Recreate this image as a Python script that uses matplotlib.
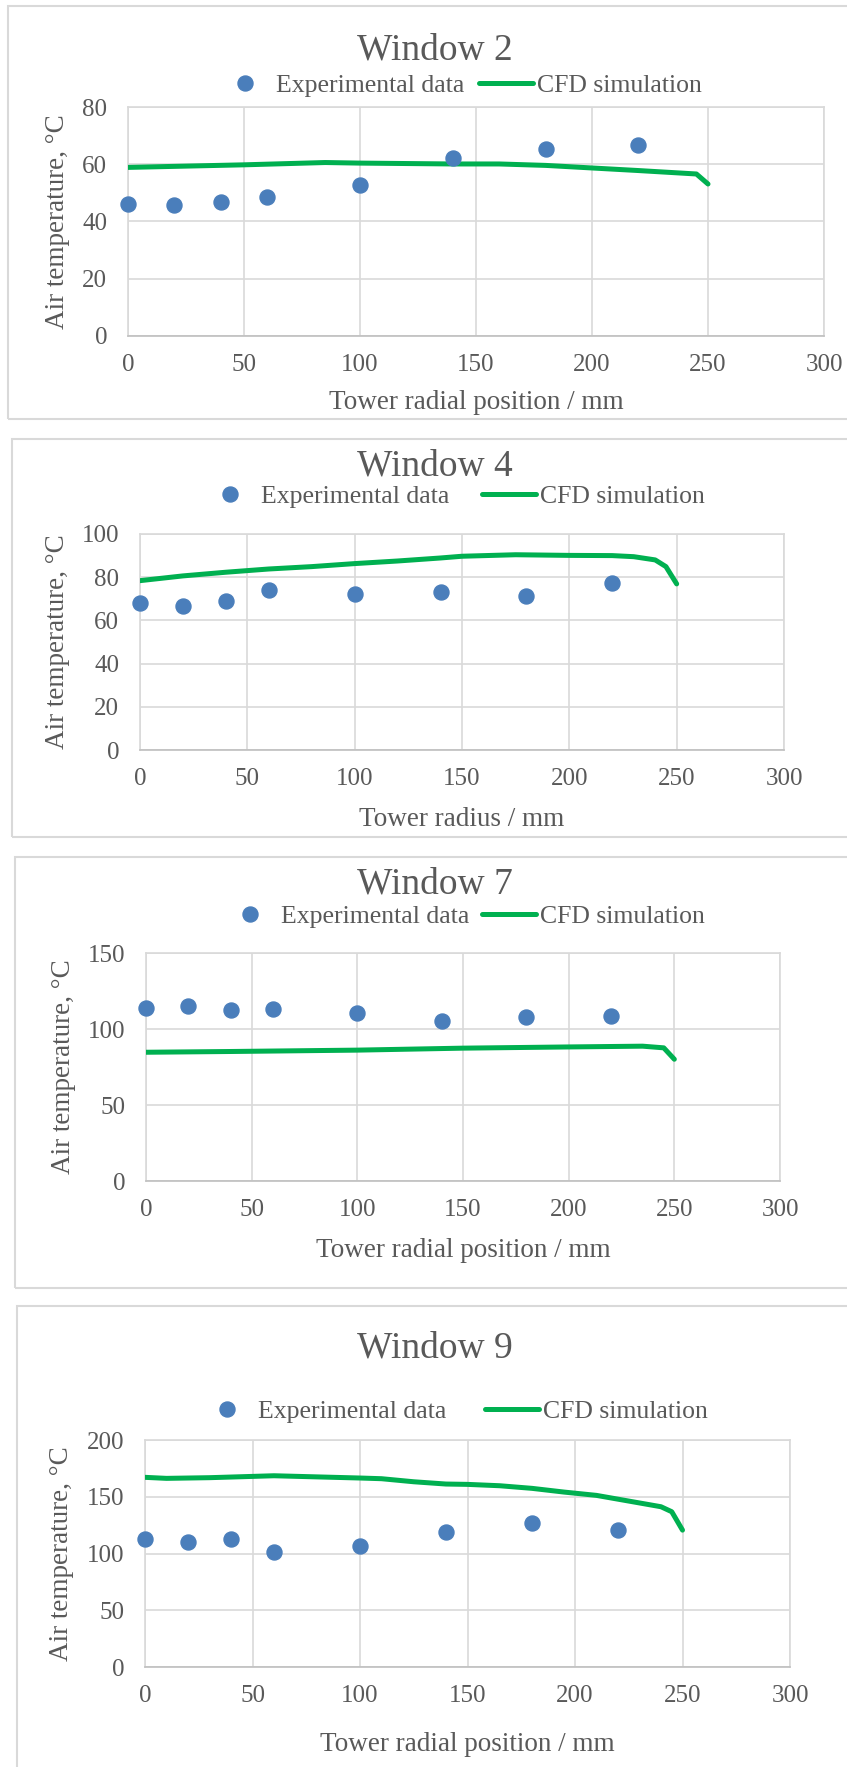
import matplotlib.pyplot as plt
from matplotlib.patches import Rectangle

plt.rcParams['font.family'] = ['Liberation Serif', 'DejaVu Serif']

W, H = 847, 1767

# measured radial positions / mm
exp_x = [0, 20, 40, 60, 100, 140, 180, 220]

# Window 2
w2_exp = [46.1, 45.8, 46.9, 48.7, 52.6, 62.2, 65.2, 66.6]
w2_cfd_x = [0, 50, 85, 100, 140, 160, 180, 200, 220, 245, 250]
w2_cfd = [58.9, 59.8, 60.6, 60.4, 60.1, 60.1, 59.6, 58.7, 57.8, 56.6, 53.1]

# Window 4
w4_exp = [67.9, 66.7, 69.0, 74.1, 72.4, 73.0, 71.3, 77.2]
w4_cfd_x = [0, 20, 40, 60, 80, 100, 120, 140, 150, 175, 200, 220, 230, 240, 245, 250]
w4_cfd = [78.4, 80.6, 82.3, 83.8, 84.9, 86.3, 87.5, 88.9, 89.7, 90.4, 90.1, 90.0, 89.5, 88.0, 84.9, 76.9]

# Window 7
w7_exp = [113.9, 115.0, 112.3, 113.4, 110.4, 105.3, 108.2, 108.4]
w7_cfd_x = [0, 40, 100, 150, 200, 235, 245, 250]
w7_cfd = [84.7, 85.2, 86.1, 87.4, 88.2, 88.7, 87.6, 80.1]

# Window 9
w9_exp = [112.4, 110.3, 112.6, 101.5, 106.8, 118.8, 126.5, 120.6]
w9_cfd_x = [0, 10, 30, 60, 100, 110, 125, 140, 150, 165, 180, 195, 210, 225, 240, 245, 250]
w9_cfd = [167.1, 166.2, 166.8, 168.5, 166.5, 165.9, 163.2, 161.2, 160.9, 159.7, 157.4, 154.1, 151.2, 146.2, 141.2, 136.8, 120.6]

titles = ['Window 2', 'Window 4', 'Window 7', 'Window 9']
xlabels = ['Tower radial position / mm', 'Tower radius / mm',
           'Tower radial position / mm', 'Tower radial position / mm']
ylabel = 'Air temperature, °C'
y_max = [80, 100, 150, 200]
y_step = [20, 20, 50, 50]

panels = [
    (w2_exp, w2_cfd_x, w2_cfd),
    (w4_exp, w4_cfd_x, w4_cfd),
    (w7_exp, w7_cfd_x, w7_cfd),
    (w9_exp, w9_cfd_x, w9_cfd),
]

# pixel layout: plot l, r, t, b / title y / legend x, y / xlabel y / ylabel x / border l, t, b / legend gap
layout = [
    dict(pl=128, pr=824, pt=107, pb=336, ty=50, lx=460, ly=86, xly=402, ylx=58, bl=7.5, bt=6.5, bb=419.5, gap=0.6),
    dict(pl=140, pr=784, pt=534, pb=750, ty=466, lx=454, ly=497, xly=819, ylx=58, bl=12, bt=439, bb=837, gap=1.3),
    dict(pl=146, pr=780, pt=953, pb=1181, ty=884, lx=464, ly=917, xly=1250, ylx=63, bl=15, bt=857, bb=1288, gap=0.5),
    dict(pl=145, pr=790, pt=1440, pb=1667, ty=1348, lx=454, ly=1412, xly=1744, ylx=61, bl=17, bt=1306, bb=1790, gap=1.5),
]

txt = '#595959'
grid_c = '#D9D9D9'
blue = '#4A7EBB'
green = '#00B050'

fig = plt.figure(figsize=(W / 100, H / 100), dpi=100)

for (exp_y, cx, cy), L, title, xl, ym, ys in zip(panels, layout, titles, xlabels, y_max, y_step):
    fig.add_artist(Rectangle((L['bl'] / W, 1 - L['bb'] / H), (W + 20 - L['bl']) / W, (L['bb'] - L['bt']) / H,
                             transform=fig.transFigure, fill=False, ec=grid_c, lw=1.5))
    ax = fig.add_axes([L['pl'] / W, 1 - L['pb'] / H, (L['pr'] - L['pl']) / W, (L['pb'] - L['pt']) / H])
    ax.plot(cx, cy, color=green, lw=3.6, label='CFD simulation', zorder=3, solid_capstyle='round')
    ax.plot(exp_x, exp_y, 'o', color=blue, ms=10.8, label='Experimental data', zorder=4, clip_on=False)
    ax.set_xlim(0, 300)
    ax.set_ylim(0, ym)
    ax.set_xticks(range(0, 301, 50))
    ax.set_yticks(range(0, ym + 1, ys))
    ax.grid(True, color=grid_c, lw=1.2)
    ax.set_axisbelow(True)
    for s in ax.spines.values():
        s.set_color(grid_c)
        s.set_linewidth(1.2)
    ax.spines['bottom'].set_color('#BFBFBF')
    ax.tick_params(length=0, labelsize=18, colors=txt)
    ax.tick_params(axis='y', pad=15)
    ax.tick_params(axis='x', pad=13)

    h, lab = ax.get_legend_handles_labels()
    ax.legend(h[::-1], lab[::-1], loc='center', bbox_to_anchor=(L['lx'] / W, 1 - L['ly'] / H),
              bbox_transform=fig.transFigure, ncol=2, frameon=False, fontsize=18.5,
              handlelength=2.1, handletextpad=0.15, columnspacing=L['gap'], labelcolor=txt)

    fig.text(435 / W, 1 - L['ty'] / H, title, ha='center', va='center', fontsize=27, color=txt)
    fig.text((L['pl'] + L['pr']) / 2 / W, 1 - L['xly'] / H, xl, ha='center', va='center', fontsize=19.5, color=txt)
    fig.text(L['ylx'] / W, 1 - (L['pt'] + L['pb']) / 2 / H, ylabel, ha='center', va='center',
             rotation=90, fontsize=19.5, color=txt)

fig.savefig('out.png', dpi=100)
